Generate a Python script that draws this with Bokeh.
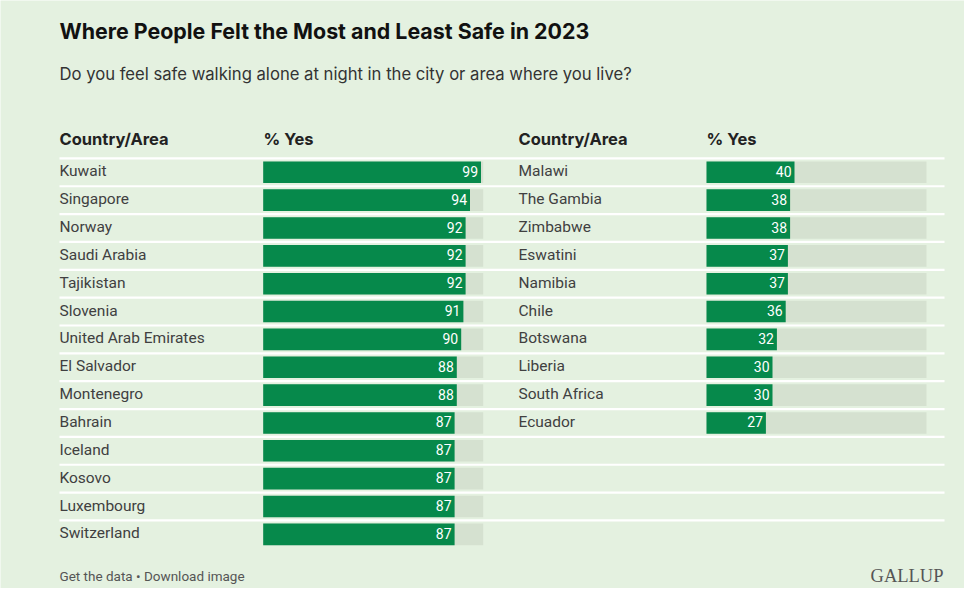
from bokeh.plotting import figure
from bokeh.models import Range1d, ColumnDataSource
from bokeh.core.properties import value
from bokeh.embed import file_html
from bokeh.resources import INLINE

# ---- data ----
most_countries = ["Kuwait", "Singapore", "Norway", "Saudi Arabia", "Tajikistan", "Slovenia",
                  "United Arab Emirates", "El Salvador", "Montenegro", "Bahrain", "Iceland",
                  "Kosovo", "Luxembourg", "Switzerland"]
most_values = [99, 94, 92, 92, 92, 91, 90, 88, 88, 87, 87, 87, 87, 87]
least_countries = ["Malawi", "The Gambia", "Zimbabwe", "Eswatini", "Namibia", "Chile",
                   "Botswana", "Liberia", "South Africa", "Ecuador"]
least_values = [40, 38, 38, 37, 37, 36, 32, 30, 30, 27]

title = "Where People Felt the Most and Least Safe in 2023"
subtitle = "Do you feel safe walking alone at night in the city or area where you live?"
col_head = "Country/Area"
val_head = "% Yes"
footer = "Get the data \u2022 Download image"
brand = "GALLUP"

# ---- style ----
BG = "#e4f1e0"
GREEN = "#06894b"
TRACK = "#d5e1d0"
SEP = "#ffffff"
FONT = "Roboto"
TFONT = "Inter"

W, H = 964, 588
ROW0, PITCH = 171.8, 27.85
BAR_PX = 2.2  # pixels per percent
LX0, RX0 = 262.7, 706.0

p = figure(width=W, height=H, output_backend="svg", toolbar_location=None,
           x_range=Range1d(0, W), y_range=Range1d(H, 0),
           min_border=0, background_fill_color=BG, border_fill_color=BG,
           outline_line_color=None)
p.axis.visible = False
p.grid.visible = False

p.extra_x_ranges = {
    "lx": Range1d((0 - LX0) / BAR_PX, (W - LX0) / BAR_PX),
    "rx": Range1d((0 - RX0) / BAR_PX, (W - RX0) / BAR_PX),
}
p.extra_y_ranges = {"rows": Range1d((H - ROW0) / PITCH, (0 - ROW0) / PITCH)}

nrows = max(len(most_countries), len(least_countries))

# separator lines (header line + between rows)
sep_y = [-0.5 + i for i in range(nrows)]
p.segment(x0=[59] * len(sep_y), x1=[944] * len(sep_y), y0=sep_y, y1=sep_y,
          y_range_name="rows", line_color=SEP, line_width=2.2)

def panel(countries, vals, xr, label_x):
    idx = list(range(len(countries)))
    src = ColumnDataSource(dict(y=idx, v=vals, c=countries, full=[100] * len(idx),
                                t=[str(v) for v in vals]))
    p.hbar(y="y", left=0, right="full", height=0.775, source=src, x_range_name=xr,
           y_range_name="rows", fill_color=TRACK, line_color=None)
    p.hbar(y="y", left=0, right="v", height=0.775, source=src, x_range_name=xr,
           y_range_name="rows", fill_color=GREEN, line_color=None)
    p.text(x="v", y="y", text="t", source=src, x_range_name=xr, y_range_name="rows",
           x_offset=-3, y_offset=-1, text_align="right", text_baseline="middle",
           text_color="white", text_font=value(FONT), text_font_size="14px")
    p.text(x=label_x, y="y", text="c", source=src, y_range_name="rows",
           y_offset=-1, text_align="left", text_baseline="middle", text_color="#404040",
           text_font=value(FONT), text_font_size="15.5px")

panel(most_countries, most_values, "lx", 59)
panel(least_countries, least_values, "rx", 518)

# headers
p.text(x=[59, 263, 518, 706], y=[138, 138, 138, 138],
       text=[col_head, val_head, col_head, val_head],
       text_baseline="middle", text_color="#222222", text_font=value(TFONT),
       text_font_style="bold", text_font_size="16.5px")

# title / subtitle
p.text(x=[59], y=[30], text=[title], text_baseline="middle", text_color="#111111",
       text_font=value(TFONT), text_font_style="bold", text_font_size="21.4px")
p.text(x=[59], y=[73], text=[subtitle], text_baseline="middle", text_color="#333333",
       text_font=value(TFONT), text_font_size="16.65px")

# footer
p.text(x=[59], y=[575], text=[footer], text_baseline="middle", text_color="#555555",
       text_font=value(FONT), text_font_size="13.5px")
p.text(x=[943], y=[575], text=[brand], text_align="right", text_baseline="middle",
       text_color="#555555", text_font=value("Liberation Serif"), text_font_size="18.5px")

open("out.html", "w").write(file_html(p, INLINE))
